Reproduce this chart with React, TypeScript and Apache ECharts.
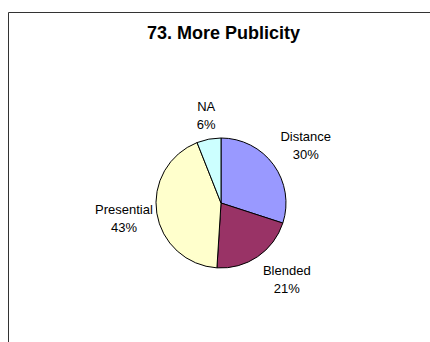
import React, { useEffect, useRef } from "react";
import * as echarts from "echarts";

const TITLE = "73. More Publicity";
const categories = ["Distance", "Blended", "Presential", "NA"];
const values = [30, 21, 43, 6];
const colors = ["#9999FF", "#993366", "#FFFFCC", "#CCFFFF"];

const CX = 221;
const CY = 203;
const R = 65;

export default function App() {
  const ref = useRef<HTMLDivElement>(null);
  useEffect(() => {
    if (!ref.current) return;
    const chart = echarts.init(ref.current, null, { renderer: "svg" });
    const total = values.reduce((a, b) => a + b, 0);
    const mids: number[] = [];
    let cum = 0;
    values.forEach((v) => {
      mids.push(((cum + v / 2) / total) * Math.PI * 2);
      cum += v;
    });
    const clamp = (v: number) => Math.max(-1, Math.min(1, v));
    chart.setOption({
      animation: false,
      backgroundColor: "#ffffff",
      title: {
        text: TITLE,
        left: 142,
        top: 19,
        textStyle: {
          fontFamily: "Liberation Sans, Arial, sans-serif",
          fontWeight: "bold",
          fontSize: 18,
          color: "#000000",
        },
      },
      graphic: [
        {
          type: "rect",
          shape: { x: 8.5, y: 12.5, width: 500, height: 400 },
          style: { fill: "none", stroke: "#333333", lineWidth: 1 },
          silent: true,
        },
      ],
      series: [
        {
          type: "pie",
          center: [CX, CY],
          radius: R,
          startAngle: 90,
          clockwise: true,
          data: categories.map((c, i) => ({
            name: c,
            value: values[i],
            itemStyle: { color: colors[i] },
          })),
          itemStyle: { borderColor: "#000000", borderWidth: 1 },
          label: {
            show: true,
            position: "outside",
            formatter: "{b}\n{d}%",
            fontFamily: "Liberation Sans, Arial, sans-serif",
            fontSize: 13,
            lineHeight: 18,
            color: "#000000",
          },
          labelLine: { show: false, length: 10, length2: 0 },
          labelLayout: (p: any) => {
            const a = mids[p.dataIndex];
            const s = Math.sin(a);
            const c = Math.cos(a);
            const d = R + 6;
            const w = p.labelRect.width;
            const h = p.labelRect.height;
            return {
              x: CX + d * s + (w / 2) * clamp(s * 2) + 2,
              y: CY - d * c - (h / 2) * clamp(c * 1.5),
              align: "center",
              verticalAlign: "middle",
            };
          },
          emphasis: { disabled: true },
        },
      ],
    });
    return () => chart.dispose();
  }, []);
  return (
    <div
      ref={ref}
      style={{ position: "fixed", left: 0, top: 0, width: 430, height: 342 }}
    />
  );
}
